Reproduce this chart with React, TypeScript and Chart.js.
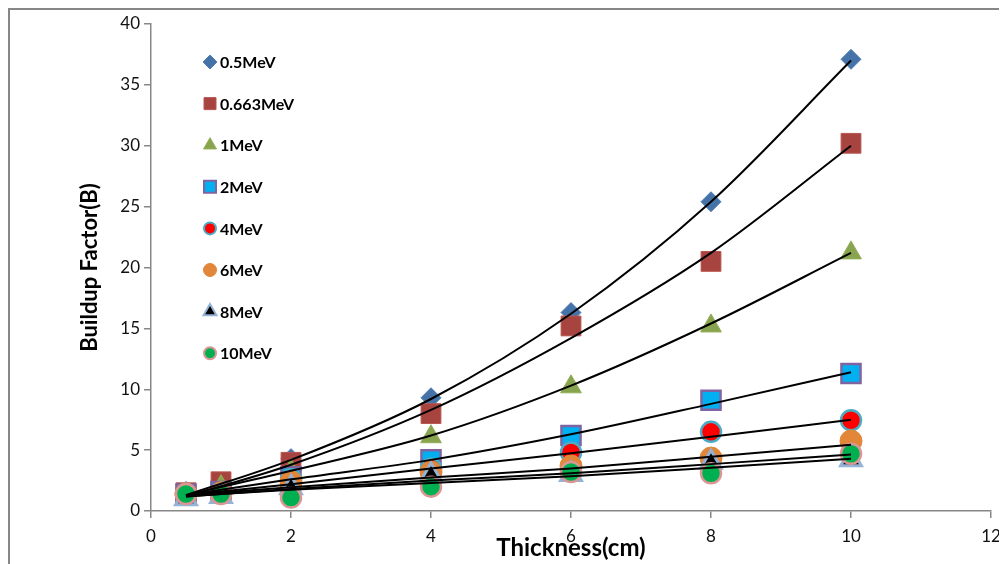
import React, { useEffect, useRef } from 'react';
import { Chart, registerables } from 'chart.js';

Chart.register(...registerables);

const FONT = 'Lato, "Open Sans", sans-serif';

// ---- data ----
const thickness = [0.5, 1, 2, 4, 6, 8, 10];
const seriesNames = ['0.5MeV', '0.663MeV', '1MeV', '2MeV', '4MeV', '6MeV', '8MeV', '10MeV'];

const b05 = [1.6, 2.2, 4.3, 9.3, 16.3, 25.4, 37.1];
const b0663 = [1.5, 2.4, 4.0, 8.0, 15.2, 20.5, 30.2];
const b1 = [1.4, 2.0, 3.3, 6.1, 10.2, 15.2, 21.2];
const b2 = [1.4, 1.6, 2.8, 4.2, 6.2, 9.1, 11.3];
const b4 = [1.4, 1.5, 2.6, 3.5, 4.8, 6.5, 7.45];
const b6 = [1.4, 1.5, 2.4, 3.2, 3.7, 4.35, 5.75];
const b8 = [1.0, 1.2, 1.9, 2.95, 3.0, 4.0, 4.2];
const b10 = [1.4, 1.4, 1.1, 2.0, 3.2, 3.1, 4.7];

const trendX = [0.5, 2, 4, 6, 8, 10];
const t05 = [1.3, 4.2, 9.2, 16.2, 25.4, 37.0];
const t0663 = [1.2, 3.8, 8.3, 14.2, 21.2, 30.0];
const t1 = [1.3, 3.3, 6.2, 10.3, 15.4, 21.2];
const t2 = [1.3, 2.6, 4.2, 6.3, 8.8, 11.4];
const t4 = [1.3, 2.2, 3.5, 4.75, 6.1, 7.5];
const t6 = [1.3, 1.95, 2.75, 3.5, 4.45, 5.45];
const t8 = [1.2, 1.75, 2.3, 2.85, 3.55, 4.3];
const t10 = [1.2, 1.8, 2.5, 3.1, 3.85, 4.65];

const xTicks = [0, 2, 4, 6, 8, 10, 12];
const yTicks = [0, 5, 10, 15, 20, 25, 30, 35, 40];

const seriesValues = [b05, b0663, b1, b2, b4, b6, b8, b10];
const trendValues = [t05, t0663, t1, t2, t4, t6, t8, t10];

// ---- styles ----
type Marker = { style: string; r: number; lr: number; fill: string; stroke: string; lw: number };
const markers: Marker[] = [
  { style: 'rectRot', r: 10, lr: 7, fill: '#4573A8', stroke: '#4F7DB5', lw: 1 },
  { style: 'rect', r: 14, lr: 6, fill: '#A8443F', stroke: '#B85550', lw: 1 },
  { style: 'triangle', r: 12, lr: 7.5, fill: '#88A44E', stroke: '#93AF58', lw: 1 },
  { style: 'rect', r: 13.5, lr: 6, fill: '#00B0F0', stroke: '#8064A2', lw: 2.5 },
  { style: 'circle', r: 10, lr: 6, fill: '#FF0000', stroke: '#4BACC6', lw: 2.5 },
  { style: 'circle', r: 11, lr: 6.5, fill: '#E2873A', stroke: '#E2873A', lw: 1 },
  { style: 'triangle', r: 12, lr: 7.5, fill: '#000000', stroke: '#95B3D7', lw: 3 },
  { style: 'circle', r: 10, lr: 6, fill: '#00B050', stroke: '#D99694', lw: 2.5 },
];

const GRAY = '#878787';
const LEG_X = 202;
const LEG_TX = 212;
const LEG_Y0 = 54;
const LEG_STEP = 41.6;

function drawMarker(c: CanvasRenderingContext2D, m: Marker, x: number, y: number) {
  const r = m.lr;
  c.beginPath();
  if (m.style === 'rectRot') {
    c.moveTo(x - r, y);
    c.lineTo(x, y - r);
    c.lineTo(x + r, y);
    c.lineTo(x, y + r);
    c.closePath();
  } else if (m.style === 'rect') {
    c.rect(x - r, y - r, 2 * r, 2 * r);
  } else if (m.style === 'triangle') {
    c.moveTo(x, y - r);
    c.lineTo(x + r * 0.866, y + r * 0.5);
    c.lineTo(x - r * 0.866, y + r * 0.5);
    c.closePath();
  } else {
    c.arc(x, y, r, 0, Math.PI * 2);
  }
  c.fillStyle = m.fill;
  c.fill();
  c.lineWidth = Math.min(m.lw, 2);
  c.strokeStyle = m.stroke;
  c.stroke();
}

const framePlugin = {
  id: 'frame',
  beforeDraw(chart: any) {
    const c = chart.ctx as CanvasRenderingContext2D;
    c.save();
    c.fillStyle = '#ffffff';
    c.fillRect(0, 0, chart.width, chart.height);
    c.strokeStyle = GRAY;
    c.lineWidth = 2;
    c.beginPath();
    c.moveTo(1, chart.height);
    c.lineTo(1, 1);
    c.lineTo(chart.width, 1);
    c.stroke();
    c.restore();
  },
};

const legendPlugin = {
  id: 'customLegend',
  afterDraw(chart: any) {
    const c = chart.ctx as CanvasRenderingContext2D;
    c.save();
    seriesNames.forEach((name, i) => {
      const y = LEG_Y0 + i * LEG_STEP;
      drawMarker(c, markers[i], LEG_X, y);
      c.fillStyle = '#000';
      c.font = `bold 16px ${FONT}`;
      c.textBaseline = 'middle';
      c.textAlign = 'left';
      c.fillText(name, LEG_TX, y + 1);
    });
    c.restore();
  },
};

export default function App() {
  const ref = useRef<HTMLCanvasElement>(null);

  useEffect(() => {
    document.documentElement.style.overflow = 'hidden';
    document.body.style.overflow = 'hidden';
    const canvas = ref.current;
    if (!canvas) return;

    const scatterSets = seriesValues.map((vals, i) => ({
      type: 'scatter' as const,
      label: seriesNames[i],
      data: thickness.map((x, j) => ({ x, y: vals[j] })),
      pointStyle: markers[i].style,
      pointRadius: markers[i].r,
      pointHoverRadius: markers[i].r,
      pointBackgroundColor: markers[i].fill,
      pointBorderColor: markers[i].stroke,
      pointBorderWidth: markers[i].lw,
      backgroundColor: markers[i].fill,
      borderColor: markers[i].stroke,
      showLine: false,
      order: 100 - i,
    }));

    const trendSets = trendValues.map((vals, i) => ({
      type: 'line' as const,
      label: 'Trend ' + seriesNames[i],
      data: trendX.map((x, j) => ({ x, y: vals[j] })),
      borderColor: '#000000',
      borderWidth: 2,
      pointRadius: 0,
      pointHoverRadius: 0,
      fill: false,
      cubicInterpolationMode: 'monotone' as const,
      order: 0,
    }));

    const axisCommon = {
      type: 'linear' as const,
      grid: {
        drawOnChartArea: false,
        drawTicks: true,
        tickLength: 7,
        color: GRAY,
        lineWidth: 1.5,
      },
      border: { display: true, color: GRAY, width: 1.5 },
    };

    const chart = new Chart(canvas, {
      type: 'scatter',
      data: { datasets: [...scatterSets, ...trendSets] as any },
      options: {
        responsive: false,
        animation: false,
        layout: { padding: { left: 0, top: 15, right: 13, bottom: 0 } },
        plugins: {
          legend: { display: false },
          tooltip: { enabled: false },
        },
        scales: {
          x: {
            ...axisCommon,
            min: 0,
            max: 12,
            afterBuildTicks: (s: any) => {
              s.ticks = xTicks.map((v) => ({ value: v }));
            },
            afterFit: (s: any) => {
              s.height = 53;
              s.paddingRight = 0;
              s.paddingLeft = 0;
            },
            ticks: {
              color: '#111',
              font: { family: FONT, size: 17 },
              padding: 8,
              maxRotation: 0,
            },
            title: {
              display: true,
              text: 'Thickness(cm)',
              color: '#000',
              font: { family: FONT, size: 24, weight: 'bold' },
              padding: { top: 0, bottom: 1.6 },
            },
          },
          y: {
            ...axisCommon,
            min: 0,
            max: 40,
            afterBuildTicks: (s: any) => {
              s.ticks = yTicks.map((v) => ({ value: v }));
            },
            afterFit: (s: any) => {
              s.width = 143;
            },
            ticks: {
              color: '#111',
              font: { family: FONT, size: 17 },
              padding: 4,
            },
            title: {
              display: true,
              text: 'Buildup Factor(B)',
              color: '#000',
              font: { family: FONT, size: 22, weight: 'bold' },
              padding: { top: 69, bottom: 0 },
            },
          },
        },
      } as any,
      plugins: [framePlugin, legendPlugin],
    });

    return () => chart.destroy();
  }, []);

  return (
    <div style={{ width: 999, height: 556 }}>
      <canvas ref={ref} width={999} height={556} style={{ display: 'block' }} />
    </div>
  );
}
